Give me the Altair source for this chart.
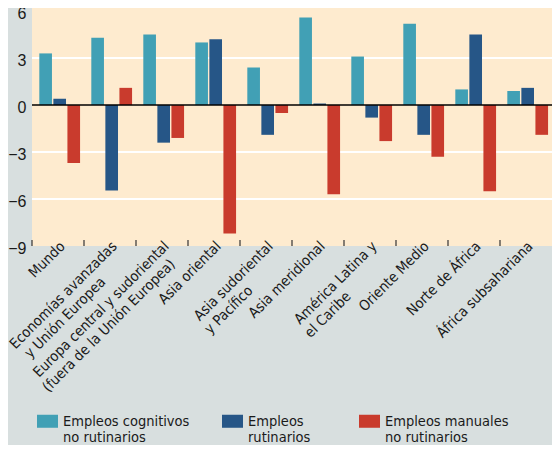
import altair as alt
import pandas as pd

NBSP = "\u00a0"
ZW = "\u200b"

# Categories (line 1, line 2)
cat_line1 = ["Mundo", "Economías avanzadas", "Europa central y sudoriental", "Asia oriental",
             "Asia sudoriental", "Asia meridional", "América Latina y", "Oriente Medio",
             "Norte de África", "África subsahariana"]
cat_line2 = ["", "y Unión Europea", "(fuera de la Unión Europea)", "",
             "y Pacífico", "", "el Caribe", "", "", ""]

series_line1 = ["Empleos cognitivos", "Empleos", "Empleos manuales"]
series_line2 = ["no rutinarios", "rutinarios", "no rutinarios"]

cognitivos = [3.3, 4.3, 4.5, 4.0, 2.4, 5.6, 3.1, 5.2, 1.0, 0.9]
rutinarios = [0.4, -5.45, -2.4, 4.2, -1.9, 0.1, -0.8, -1.9, 4.5, 1.1]
manuales = [-3.7, 1.1, -2.1, -8.2, -0.5, -5.7, -2.3, -3.3, -5.5, -1.9]

y_ticks = [-9, -6, -3, 0, 3, 6]
grid_vals = [-6, -3, 3]

colors = ["#41a0b5", "#265687", "#c93b2d"]


def pad(s, n):
    # trailing non-breaking spaces, closed by a zero-width char so they are kept
    return s + NBSP * n + ZW if n > 0 else s


def make_label(a, b):
    if not b:
        return a
    # pad the shorter line so both lines start at the same place
    diff = len(a) - len(b)
    n = int(round(abs(diff) * 1.9))
    if diff > 0:
        b = pad(b, n)
    elif diff < 0:
        a = pad(a, n)
    return a + "|" + b


cat_labels = [make_label(a, b) for a, b in zip(cat_line1, cat_line2)]
ser_labels = [series_line1[0] + "|" + series_line2[0],
              series_line1[1] + "|" + pad(series_line2[1], 4),
              series_line1[2] + "|" + series_line2[2]]

rows = []
for i, c in enumerate(cat_labels):
    for s, vals in zip(ser_labels, [cognitivos, rutinarios, manuales]):
        rows.append({"cat": c, "serie": s, "valor": vals[i]})
df = pd.DataFrame(rows)

FONT_NARROW = "Liberation Sans Narrow, DejaVu Sans Condensed, Roboto Condensed, Liberation Sans"

yscale = alt.Scale(domain=[-9, 6.2], nice=False, zero=False)
xscale = alt.Scale(paddingInner=0, paddingOuter=0)

bars = alt.Chart(df).mark_bar(cornerRadius=0).encode(
    x=alt.X("cat:N", sort=cat_labels, scale=xscale, title=None,
            axis=alt.Axis(labelAngle=-45, labelAlign="right", labelBaseline="top",
                          labelExpr="split(datum.label, '|')", labelFont=FONT_NARROW,
                          labelFontSize=14.5, labelLineHeight=17, labelColor="#1a1a1a",
                          labelPadding=-7, domain=False, ticks=False,
                          labelLimit=400, labelOverlap=False)),
    xOffset=alt.XOffset("serie:N", sort=ser_labels,
                        scale=alt.Scale(paddingInner=0.1, paddingOuter=0.4, align=0.65)),
    y=alt.Y("valor:Q", scale=yscale, title=None,
            axis=alt.Axis(values=y_ticks, grid=False, domain=False, ticks=False,
                          labelFont="Liberation Sans", labelFontSize=16, labelColor="#1a1a1a",
                          labelPadding=6, labelOffset=2)),
    color=alt.Color("serie:N", sort=ser_labels,
                    scale=alt.Scale(domain=ser_labels, range=colors),
                    legend=alt.Legend(title=None, orient="none", legendX=5, legendY=396,
                                      direction="horizontal", columns=3,
                                      symbolType="M-1,0L1,0L1,1.24L-1,1.24Z", symbolSize=441,
                                      symbolStrokeWidth=0, symbolOpacity=1,
                                      labelExpr="split(datum.label, '|')",
                                      labelFont=FONT_NARROW, labelFontSize=14.5,
                                      labelColor="#1a1a1a", labelBaseline="top",
                                      labelOffset=5, columnPadding=32, labelLimit=300)),
)

ticks = alt.Chart(pd.DataFrame({"cat": cat_labels})).mark_rule(
    color="#333333", strokeWidth=1.2
).encode(
    x=alt.X("cat:N", sort=cat_labels, scale=xscale, bandPosition=0),
    y=alt.datum(-9),
    y2=alt.datum(-8.62),
)

grid = alt.Chart(pd.DataFrame({"g": grid_vals})).mark_rule(color="white", strokeWidth=2).encode(
    y=alt.Y("g:Q", scale=yscale)
)

zero = alt.Chart(pd.DataFrame({"z": [0]})).mark_rule(color="black", strokeWidth=1.5).encode(
    y=alt.Y("z:Q", scale=yscale)
)

chart = alt.layer(grid, bars, ticks, zero).properties(
    width=520, height=238,
    background="#d8dfdf",
    autosize=alt.AutoSizeParams(type="none"),
    padding={"left": 24, "top": 0, "right": 0, "bottom": 199},
).configure_view(fill="#feebcf", stroke=None)

chart.save("out.html", embed_options={"renderer": "svg", "actions": False})
